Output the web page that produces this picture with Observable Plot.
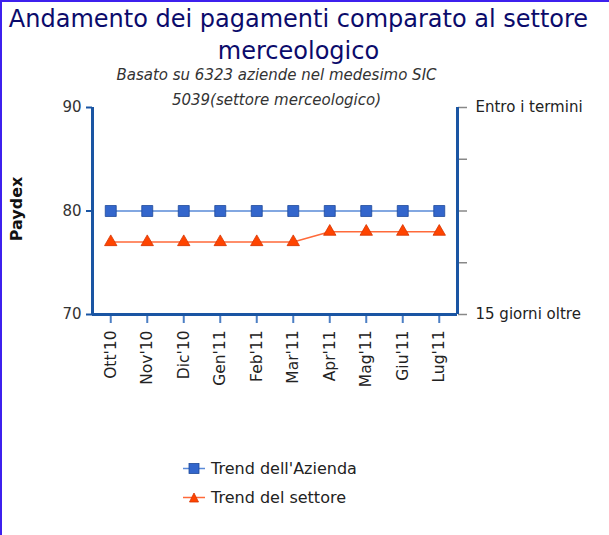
<!DOCTYPE html>
<html><head><meta charset="utf-8">
<script src="https://cdn.jsdelivr.net/npm/d3@7"></script>
<script src="https://cdn.jsdelivr.net/npm/@observablehq/plot@0.6"></script>
<style>
body{margin:0;background:#fff;}
#wrap{position:relative;width:609px;height:535px;overflow:hidden;font-family:"DejaVu Sans",sans-serif;}
#bl{position:absolute;left:0;top:0;width:2px;height:535px;background:#3d20ee;}
#bt{position:absolute;left:0;top:0;width:609px;height:2px;background:#3d20ee;}
.t{position:absolute;left:0;width:609px;text-align:center;white-space:nowrap;}
#title1,#title2{font-size:24px;color:#0b0b6b;}
#sub1,#sub2{font-size:15px;font-style:italic;color:#333;}
.leg{position:absolute;left:183px;font-size:16px;color:#222;display:flex;align-items:center;white-space:nowrap;}
.leg svg{margin-right:6px;}
#plot{position:absolute;left:0;top:0;}
</style></head>
<body><div id="wrap">
<div id="plot"></div>
<div id="bl"></div><div id="bt"></div>
<div class="t" id="title1" style="top:5px;left:-6px">Andamento dei pagamenti comparato al settore</div>
<div class="t" id="title2" style="top:37px;left:-6px">merceologico</div>
<div class="t" id="sub1" style="top:66px;left:-28px">Basato su 6323 aziende nel medesimo SIC</div>
<div class="t" id="sub2" style="top:91px;left:-28px">5039(settore merceologico)</div>
<div class="leg" id="leg1" style="top:459px"></div>
<div class="leg" id="leg2" style="top:488px"></div>
</div>
<script>
const months = ["Ott'10","Nov'10","Dic'10","Gen'11","Feb'11","Mar'11","Apr'11","Mag'11","Giu'11","Lug'11"];
const aziendaValues = [80,80,80,80,80,80,80,80,80,80];
const settoreValues = [77,77,77,77,77,77,78,78,78,78];
const seriesNames = ["Trend dell'Azienda","Trend del settore"];
const yTicks = [70,80,90];
const rightTicks = [70,75,80,85,90];
const rightLabels = {90:"Entro i termini",70:"15 giorni oltre"};
const yLabel = "Paydex";

const blue = "#3366cc", blueLine = "#5a8ad8", blueEdge = "#1f4a9a";
const orange = "#ff4400", orangeLine = "#ff6a3a", orangeEdge = "#d43300";
const axisBlue = "#1a55a3";

const idx = months.map((_, i) => i);
const az = months.map((m, i) => ({i, v: aziendaValues[i]}));
const se = months.map((m, i) => ({i, v: settoreValues[i]}));

const chart = Plot.plot({
  width: 609, height: 535,
  marginLeft: 92, marginRight: 152, marginTop: 107, marginBottom: 221,
  style: {fontFamily: "DejaVu Sans, sans-serif", background: "transparent"},
  x: {type: "linear", domain: [-0.5, 9.5]},
  y: {domain: [70, 90]},
  marks: [
    Plot.axisX({ticks: idx, tickFormat: i => months[i], tickRotate: -90, tickSize: 9, tickPadding: 7,
      stroke: "#4d7fc4", strokeWidth: 2, fill: "#222", fontSize: 15.5, label: null}),
    Plot.axisY({anchor: "left", ticks: yTicks, tickSize: 6, tickPadding: 5, stroke: axisBlue,
      strokeWidth: 2, fill: "#333", fontSize: 15, label: null}),
    Plot.axisY({anchor: "right", ticks: rightTicks, tickFormat: d => rightLabels[d] || "", tickSize: 9,
      tickPadding: 9, stroke: "#888", strokeWidth: 1.5, fill: "#222", fontSize: 15, label: null}),
    Plot.ruleX([-0.5, 9.5], {stroke: axisBlue, strokeWidth: 3}),
    Plot.ruleY([70], {stroke: axisBlue, strokeWidth: 3}),
    Plot.text([yLabel], {frameAnchor: "left", textAnchor: "middle", dx: -76, dy: -2, rotate: -90, fontWeight: "bold", fontSize: 16, fill: "#111"}),
    Plot.line(az, {x: "i", y: "v", stroke: blueLine, strokeWidth: 1.5}),
    Plot.line(se, {x: "i", y: "v", stroke: orangeLine, strokeWidth: 1.5}),
    Plot.dot(az, {x: "i", y: "v", symbol: "square", r: 6.2, fill: blue, stroke: blueEdge, strokeWidth: 0.8}),
    Plot.dot(se, {x: "i", y: "v", symbol: "triangle", r: 4.6, fill: orange, stroke: orangeEdge, strokeWidth: 0.8})
  ]
});
document.getElementById("plot").appendChild(chart);

function legendIcon(type) {
  const c = type === "square" ? [blueLine, blue, blueEdge] : [orangeLine, orange, orangeEdge];
  const shape = type === "square"
    ? `<rect x="6" y="3.5" width="10" height="10" fill="${c[1]}" stroke="${c[2]}" stroke-width="0.8"/>`
    : `<path d="M11,4 L15.5,13 L6.5,13 Z" fill="${c[1]}" stroke="${c[2]}" stroke-width="0.8"/>`;
  return `<svg width="22" height="17"><line x1="0" x2="22" y1="8.5" y2="8.5" stroke="${c[0]}" stroke-width="1.5"/>${shape}</svg>`;
}
document.getElementById("leg1").innerHTML = legendIcon("square") + "<span>" + seriesNames[0] + "</span>";
document.getElementById("leg2").innerHTML = legendIcon("triangle") + "<span>" + seriesNames[1] + "</span>";
</script>
</body></html>
